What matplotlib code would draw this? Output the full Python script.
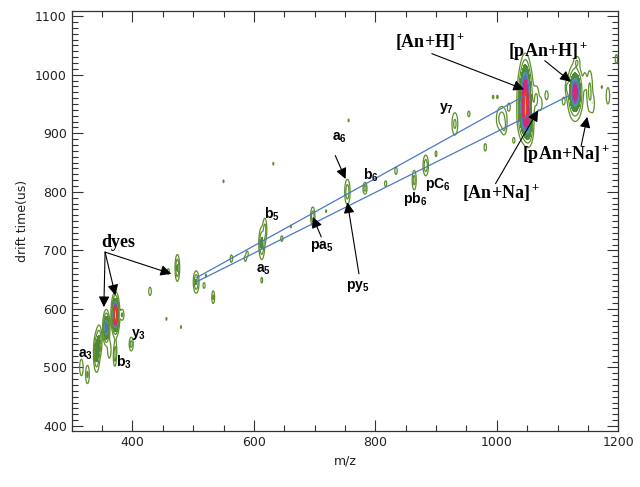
import numpy as np
import matplotlib.pyplot as plt
from matplotlib.ticker import MultipleLocator

plt.rcParams['mathtext.default'] = 'regular'

# peaks of the 2D drift-time / m/z map: (m/z, drift time, width m/z, width drift, intensity)
peak_mz = [316, 326, 341, 345, 357, 372, 372, 383, 398, 371, 362, 429, 456, 480, 459, 474,
           505, 518, 533, 521, 550, 563, 586, 589, 613, 618, 613, 632, 646, 661, 697, 719,
           754, 756, 783, 817, 834, 864, 883, 900, 931, 954, 981, 994, 1001, 1008, 1028,
           1047, 1047, 1065, 1082, 1116, 1129, 1132, 1153, 1173, 1183, 1197, 1047, 1052,
           1060, 1072, 1012, 1145, 1158, 1110, 1020]
peak_dt = [500, 488, 525, 545, 568, 590, 530, 590, 540, 518, 530, 630, 583, 569, 664, 670,
           646, 640, 620, 657, 818, 686, 686, 694, 712, 735, 649, 848, 720, 741, 758, 767,
           800, 922, 806, 814, 836, 820, 845, 865, 916, 933, 876, 962, 962, 925, 888,
           962, 925, 958, 965, 978, 970, 1022, 972, 979, 964, 1027, 995, 905,
           940, 950, 910, 990, 950, 955, 945]
peak_wm = [2, 2, 2.5, 2.5, 2.5, 2.8, 1.5, 2, 2, 1.5, 2, 1.5, 1, 1, 1.5, 2,
           2.5, 1.5, 1.5, 1, 1, 1.5, 1.5, 1.5, 2.5, 2, 1.2, 1, 1.5, 1, 2, 1,
           2.5, 1, 2, 1.5, 1.5, 2, 2.5, 1.2, 3, 1.5, 1.5, 1.2, 1.2, 5, 1.5,
           5.5, 5.5, 3, 2, 2, 5.5, 3, 3, 1.2, 2, 1.5, 4, 4,
           2, 2, 2.5, 2, 2, 2, 2]
peak_wd = [10, 10, 16, 14, 13, 15, 10, 6, 7, 10, 10, 5, 3, 3, 4, 12,
           10, 4, 7, 3, 3, 5, 4, 4, 14, 12, 4, 3, 4, 3, 9, 3,
           12, 3, 6, 4, 5, 10, 10, 4, 12, 4, 5, 3, 3, 12, 4,
           25, 18, 14, 6, 8, 20, 6, 22, 3, 10, 6, 20, 14,
           8, 8, 8, 10, 10, 6, 6]
peak_amp = [0.12, 0.15, 0.4, 0.3, 0.8, 1.5, 0.12, 0.15, 0.18, 0.15, 0.12, 0.12, 0.06, 0.06, 0.09, 0.28,
            0.28, 0.09, 0.15, 0.06, 0.06, 0.1, 0.09, 0.09, 0.32, 0.18, 0.09, 0.06, 0.09, 0.06, 0.22, 0.06,
            0.22, 0.06, 0.18, 0.09, 0.1, 0.18, 0.22, 0.09, 0.16, 0.09, 0.1, 0.07, 0.07, 0.2, 0.09,
            1.0, 0.7, 0.16, 0.1, 0.12, 1.0, 0.12, 0.16, 0.06, 0.12, 0.1, 0.3, 0.3,
            0.1, 0.1, 0.12, 0.1, 0.1, 0.08, 0.08]

# drift-time trend lines
line_mz = [[505, 1047], [505, 1126]]
line_dt = [[653, 965], [646, 968]]

# annotations: text, text position, arrow start, arrow target(s)
ion_labels = [
    ('[An+H]$^+$', (890, 1056), (893, 1036), [(1045, 975)]),
    ('[pAn+H]$^+$', (1085, 1040), (1079, 1024), [(1122, 988)]),
    ('[pAn+Na]$^+$', (1115, 864), (1139, 879), [(1149, 928)]),
    ('[An+Na]$^+$', (1008, 798), (998, 814), [(1068, 939)]),
    ('dyes', (376, 714), (355, 697), [(353, 603), (372, 623), (464, 660)]),
]
frag_labels = [
    ('a$_6$', (741, 893), (734, 862), (751, 822)),
    ('py$_5$', (771, 638), (773, 660), (754, 782)),
    ('pa$_5$', (711, 706), (711, 723), (697, 757)),
    ('b$_6$', (792, 829), None, None),
    ('pb$_6$', (866, 787), None, None),
    ('pC$_6$', (903, 812), None, None),
    ('y$_7$', (917, 943), None, None),
    ('b$_5$', (630, 761), None, None),
    ('a$_5$', (616, 666), None, None),
    ('y$_3$', (410, 556), None, None),
    ('a$_3$', (322, 521), None, None),
    ('b$_3$', (386, 508), None, None),
]

mz = np.arange(300, 1200.5, 0.5)
dt = np.arange(390, 1110, 1.0)
M, D = np.meshgrid(mz, dt)
Z = np.zeros_like(M)
for x0, y0, wx, wy, a in zip(peak_mz, peak_dt, peak_wm, peak_wd, peak_amp):
    Z += a * np.exp(-0.5 * (((M - x0) / wx) ** 2 + ((D - y0) / wy) ** 2))

fig = plt.figure(figsize=(6.4, 4.87), dpi=100)
ax = fig.add_axes([0.112, 0.115, 0.854, 0.862])

ax.contour(M, D, Z, levels=[0.045, 0.13], colors='#5e8f2c', linewidths=0.9)
ax.contourf(M, D, Z, levels=[0.25, 0.5, 0.65, 0.8, 1.1, 5],
            colors=['#4d8a3a', '#4f93a8', '#5a6fc0', '#d4287a', '#f7e0b0'])
ax.contour(M, D, Z, levels=[1.1], colors='#e03a30', linewidths=1.3)

for xs, ys in zip(line_mz, line_dt):
    ax.plot(xs, ys, color='#4a78c8', lw=0.9)

arrow = dict(arrowstyle='-|>', color='black', lw=0.8, mutation_scale=16, shrinkA=0, shrinkB=0)
for txt, pos, start, targets in ion_labels:
    for tgt in targets:
        ax.annotate('', xy=tgt, xytext=start, arrowprops=arrow)
    ax.text(pos[0], pos[1], txt, family='Liberation Serif', fontweight='bold', fontsize=13,
            ha='center', va='center')

for txt, pos, start, tgt in frag_labels:
    if tgt is not None:
        ax.annotate('', xy=tgt, xytext=start, arrowprops=arrow)
    ax.text(pos[0], pos[1], txt, family='Liberation Sans', fontweight='bold', fontsize=10,
            ha='center', va='center')

ax.set_xlim(300, 1200)
ax.set_ylim(391.5, 1108.5)
ax.xaxis.set_major_locator(MultipleLocator(200))
ax.xaxis.set_minor_locator(MultipleLocator(50))
ax.yaxis.set_major_locator(MultipleLocator(100))
ax.yaxis.set_minor_locator(MultipleLocator(10))
ax.tick_params(which='both', direction='in', top=True, right=True, colors='#333333',
               labelsize=9, labelcolor='#222222')
ax.tick_params(which='major', length=8, width=0.8)
ax.tick_params(which='minor', length=4, width=0.8)
for s in ax.spines.values():
    s.set_color('#333333')
    s.set_linewidth(0.9)
ax.set_xlabel('m/z', fontsize=9, color='#222222')
ax.set_ylabel('drift time(us)', fontsize=9, color='#222222')

fig.savefig('out.png', dpi=100, facecolor='white')
